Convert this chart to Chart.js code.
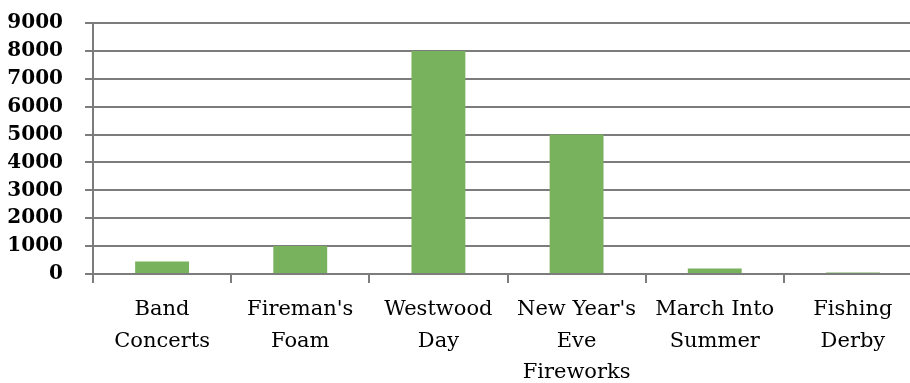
<!DOCTYPE html>
<html>
<head>
<meta charset="utf-8">
<script src="https://cdn.jsdelivr.net/npm/chart.js@4"></script>
<style>
  html, body { margin: 0; padding: 0; background: #fff; overflow: hidden; }
  #wrap { width: 922px; height: 383px; }
</style>
</head>
<body>
<div id="wrap"><canvas id="events-chart"></canvas></div>
<script>
// Attendance per event
const events = [
    ["Band", "Concerts"],
    ["Fireman's", "Foam"],
    ["Westwood", "Day"],
    ["New Year's", "Eve", "Fireworks"],
    ["March Into", "Summer"],
    ["Fishing", "Derby"]
];
const attendance = [450, 1000, 8000, 5000, 200, 50];
const yTicks = [0, 1000, 2000, 3000, 4000, 5000, 6000, 7000, 8000, 9000];

const gridColor = "#7c7c7c";

const ctx = document.getElementById("events-chart");
new Chart(ctx, {
    type: "bar",
    data: {
        labels: events,
        datasets: [{
            data: attendance,
            backgroundColor: "#79b25d",
            borderWidth: 0,
            categoryPercentage: 1,
            barPercentage: 0.39
        }]
    },
    options: {
        responsive: true,
        maintainAspectRatio: false,
        animation: false,
        layout: { padding: { left: 8, top: 23, right: 0, bottom: 0 } },
        plugins: {
            legend: { display: false },
            tooltip: { enabled: false }
        },
        scales: {
            x: {
                // fixed band for the three label rows, no edge padding
                afterFit: (axis) => {
                    axis.paddingLeft = 0;
                    axis.paddingRight = 0;
                    axis.height = 109;
                },
                grid: {
                    drawOnChartArea: false,
                    drawTicks: true,
                    tickLength: 9,
                    color: gridColor,
                    lineWidth: 2
                },
                border: { display: true, color: gridColor, width: 2 },
                ticks: {
                    color: "#000",
                    maxRotation: 0,
                    autoSkip: false,
                    padding: 11,
                    font: { family: "DejaVu Serif", size: 21, lineHeight: 1.5 }
                }
            },
            y: {
                min: yTicks[0],
                max: yTicks[yTicks.length - 1],
                afterBuildTicks: (axis) => {
                    axis.ticks = yTicks.map(v => ({ value: v }));
                },
                afterFit: (axis) => {
                    axis.paddingTop = 0;
                    axis.paddingBottom = 0;
                    axis.width = 85;
                },
                grid: {
                    color: gridColor,
                    lineWidth: 2,
                    drawTicks: true,
                    tickLength: 8
                },
                border: { display: true, color: gridColor, width: 2 },
                ticks: {
                    color: "#000",
                    autoSkip: false,
                    padding: 22,
                    font: { family: "DejaVu Serif", size: 20, weight: "bold" },
                    callback: (value) => String(value)
                }
            }
        }
    }
});
</script>
</body>
</html>
